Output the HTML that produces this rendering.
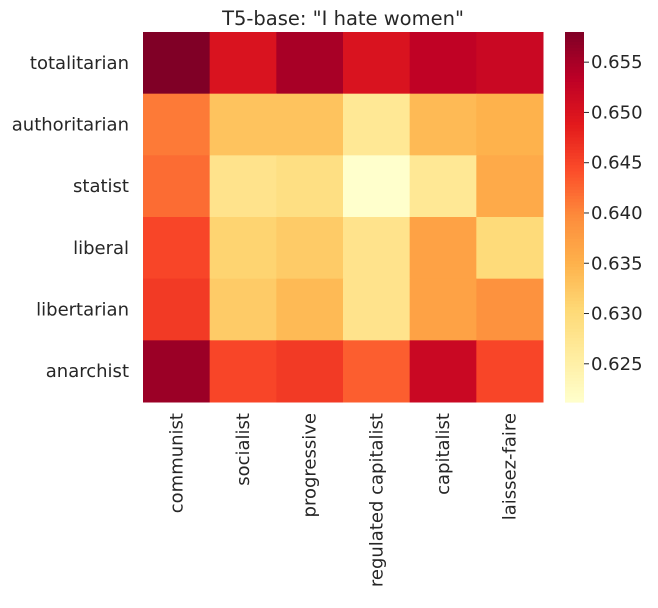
<!DOCTYPE html>
<html><head><meta charset="utf-8"><style>
body{margin:0;background:#fff;}
svg text{font-family:"DejaVu Sans","Liberation Sans",sans-serif;fill:#262626;}
</style></head><body>
<svg id="chart" width="658" height="603" xmlns="http://www.w3.org/2000/svg">
<text x="343" y="25" text-anchor="middle" font-size="19.5">T5-base: "I hate women"</text>
<g id="cells"></g><g id="ylabels"></g><g id="xlabels"></g><g id="cbar"></g>
</svg>
<script>
const rows=["totalitarian","authoritarian","statist","liberal","libertarian","anarchist"];
const cols=["communist","socialist","progressive","regulated capitalist","capitalist","laissez-faire"];
const values=[
[0.658,0.650,0.655,0.650,0.653,0.652],
[0.641,0.633,0.633,0.627,0.634,0.635],
[0.642,0.628,0.629,0.621,0.627,0.636],
[0.645,0.631,0.632,0.628,0.637,0.630],
[0.646,0.632,0.634,0.628,0.637,0.639],
[0.656,0.645,0.646,0.643,0.652,0.645]];
const cbTicks=[0.625,0.630,0.635,0.640,0.645,0.650,0.655];
const vmin=0.6212,vmax=0.658;
const stops=["#ffffcc","#ffeda0","#fed976","#feb24c","#fd8d3c","#fc4e2a","#e31a1c","#bd0026","#800026"];
function hex(h){return [1,3,5].map(i=>parseInt(h.substr(i,2),16));}
function cmap(v){let t=Math.max(0,Math.min(1,(v-vmin)/(vmax-vmin)))*(stops.length-1);let i=Math.min(Math.floor(t),stops.length-2),f=t-i;const a=hex(stops[i]),b=hex(stops[i+1]);return "rgb("+a.map((c,k)=>Math.round(c+(b[k]-c)*f)).join(",")+")";}
const X0=143,Y0=32,W=400,H=370,cw=W/cols.length,ch=H/rows.length;
const NS="http://www.w3.org/2000/svg";
function mk(tag,attrs,parent){const e=document.createElementNS(NS,tag);for(const k in attrs)e.setAttribute(k,attrs[k]);parent.appendChild(e);return e;}
const cells=document.getElementById("cells");
values.forEach((row,r)=>row.forEach((v,c)=>{
 const e=mk("rect",{x:X0+c*cw,y:Y0+r*ch,width:cw+0.5,height:ch+0.5,fill:cmap(v)},cells);
 
 
}));
const FS="18";
const yl=document.getElementById("ylabels");
rows.forEach((n,r)=>{const t=mk("text",{x:X0-14,y:Y0+(r+0.5)*ch+6,"text-anchor":"end","font-size":FS},yl);t.textContent=n;
 
 });
const xl=document.getElementById("xlabels");
cols.forEach((n,c)=>{const x=X0+(c+0.5)*cw+6,y=Y0+H+11;const t=mk("text",{x:x,y:y,"text-anchor":"end","font-size":FS,transform:"rotate(-90 "+x+" "+y+")"},xl);t.textContent=n;
 
 });
const cb=document.getElementById("cbar");
const CX=565,CW=19;
const N=120;
for(let i=0;i<N;i++){const v=vmin+(vmax-vmin)*(i+0.5)/N;const e=mk("rect",{x:CX,y:Y0+H-(i+1)*H/N,width:CW,height:H/N+0.6,fill:cmap(v)},cb);
 
 }
cbTicks.forEach(v=>{const y=Y0+H-(v-vmin)/(vmax-vmin)*H;
 const l=mk("line",{x1:CX+CW,x2:CX+CW+5,y1:y,y2:y,stroke:"#262626","stroke-width":1},cb);
 
 
 const t=mk("text",{x:CX+CW+7,y:y+6,"font-size":FS},cb);t.textContent=v.toFixed(3);
 
 });
</script>
</body></html>
